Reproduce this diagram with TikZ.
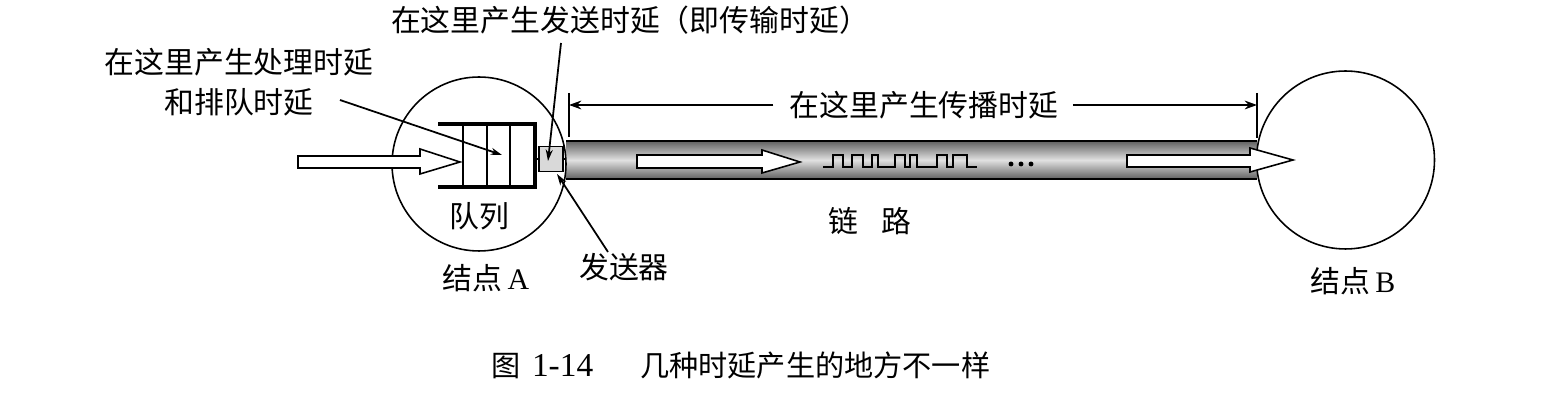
\documentclass[tikz,border=0pt]{standalone}
\usepackage{fontspec}
\setmainfont{Liberation Serif}
\newfontfamily\cjk{Noto Sans CJK SC}
\usetikzlibrary{arrows.meta}
\begin{document}
\begin{tikzpicture}[x=0.02cm,y=-0.02cm,
  lbl/.style={inner sep=0pt, font=\fontsize{17pt}{22.8pt}\selectfont\cjk},
  ptr/.style={line width=1pt, -{Stealth[length=6.5pt,width=4pt]}},
  dimarrow/.style={line width=1pt, -{Stealth[length=7pt,width=5pt]}},
  tick/.style={line width=1pt},
  blockarrow/.style={draw, fill=white, line width=0.9pt, line join=miter},
  nodecircle/.style={circle, draw, line width=0.9pt, inner sep=0pt},
  qwall/.style={line width=2.3pt},
  qcell/.style={line width=1pt},
  wave/.style={line width=1.3pt},
]
\useasboundingbox (0,0) rectangle (1554,404);

% link tube
\shade[top color=black!62, bottom color=black!62, middle color=black!12] (566,141) rectangle (1257,179);
\draw[line width=1pt] (566,141) -- (1257,141) (566,179) -- (1257,179);

% nodes A and B
\node[nodecircle, minimum size=3.48cm] (A) at (479,164) {};
\node[nodecircle, minimum size=3.56cm] (B) at (1345.5,160) {};

% queue
\draw[qwall] (438,124) -- (535,124) -- (535,187) -- (438,187);
\draw[qcell] (462.7,124) -- (462.7,187) (486.7,124) -- (486.7,187) (510,124) -- (510,187);

% sender box
\node[draw, fill=black!15, minimum width=0.47cm, minimum height=0.5cm, line width=1pt, inner sep=0pt] (txbox) at (551,159) {};
\draw[line width=1.6pt] (535,159) -- (txbox.west);
\draw[line width=1.6pt] (txbox.east) -- (566,159);

% input arrow
\draw[blockarrow] (298,156) -- (420,156) -- (420,149) -- (460,162) -- (420,174) -- (420,168) -- (298,168) -- cycle;

% arrows inside tube
\draw[blockarrow] (637,155) -- (762,155) -- (762,150) -- (800,162) -- (762,173) -- (762,168) -- (637,168) -- cycle;
\draw[blockarrow] (1127,155) -- (1250,155) -- (1250,148) -- (1293,160) -- (1250,172) -- (1250,167) -- (1127,167) -- cycle;

% square wave
\draw[wave] (823.3,167) -| (833.3,155) -| (843.3,167) -| (851.7,155) -| (863.3,167) -| (871.7,155) -| (878.3,167) -| (895,155) -| (905,167) -| (910,155) -| (916.7,167) -| (936.7,155) -| (946.7,167) -| (953.3,155) -| (966.7,167) -- (976.7,167);
\fill (1011,164) circle (1.4pt) (1021,164) circle (1.4pt) (1031,164) circle (1.4pt);

% labels
\node[lbl] (send) at (630,20) {在这里产生发送时延（即传输时延）};
\node[lbl, align=center] (proc) at (239,82) {在这里产生处理时延\\和排队时延};
\node[lbl] (prop) at (924,105) {在这里产生传播时延};
\node[lbl] (queue) at (479,216) {队列};
\node[lbl] (link) at (870,221) {链\hspace{0.8em}路};
\node[lbl] (nA) at (486,278) {结点\,{\rmfamily A}};
\node[lbl] (nB) at (1353,281) {结点\,{\rmfamily B}};
\node[lbl] (txl) at (624,267) {发送器};
\node[inner sep=0pt, font=\fontsize{16.6pt}{20pt}\selectfont] (cap) at (741,365) {{\cjk 图}\hspace{0.22cm}{\fontsize{19pt}{20pt}\selectfont 1-14}\hspace{0.94cm}{\cjk 几种时延产生的地方不一样}};

% propagation dimension
\coordinate (tL1) at (569,93);
\coordinate (tL2) at (569,137);
\coordinate (tR1) at (1257,93);
\coordinate (tR2) at (1257,138);
\coordinate (pL) at (569,105);
\coordinate (pR) at (1257,105);
\draw[tick] (tL1) -- (tL2);
\draw[tick] (tR1) -- (tR2);
\draw[dimarrow] ([xshift=-9pt]prop.west) -- (pL);
\draw[dimarrow] ([xshift=8pt]prop.east) -- (pR);

% pointers
\coordinate (p0) at (340,100);
\coordinate (p1) at (502,155);
\draw[ptr] (p0) -- (p1);
\coordinate (s0) at (561,43);
\coordinate (s1) at (548,161);
\draw[ptr] (s0) -- (s1);
\coordinate (t0) at (608,252);
\coordinate (t1) at (557,174);
\draw[ptr] (t0) -- (t1);
\end{tikzpicture}
\end{document}
